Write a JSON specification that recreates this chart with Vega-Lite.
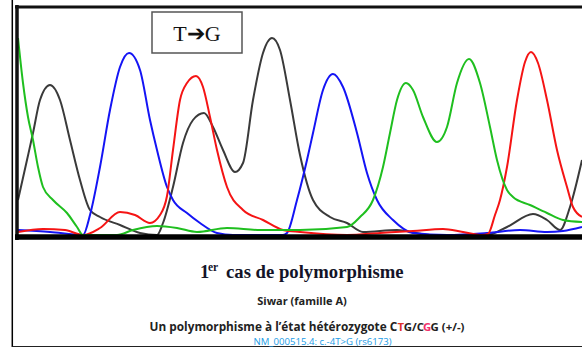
{
  "$schema": "https://vega.github.io/schema/vega-lite/v6.json",
  "width": 564,
  "height": 228,
  "autosize": "none",
  "padding": {"left": 18, "top": 8, "right": 0, "bottom": 113},
  "background": "white",
  "config": {"view": {"stroke": null}},
  "data": {"values": [{"note": "annotation"}]},
  "datasets": {
    "traces": [
      {"base": "G", "pos": 0, "signal": 36}, {"base": "G", "pos": 9, "signal": 76}, {"base": "G", "pos": 15, "signal": 103}, {"base": "G", "pos": 22, "signal": 136}, {"base": "G", "pos": 32, "signal": 151}, {"base": "G", "pos": 42, "signal": 136}, {"base": "G", "pos": 52, "signal": 96}, {"base": "G", "pos": 62, "signal": 56}, {"base": "G", "pos": 72, "signal": 26}, {"base": "G", "pos": 82, "signal": 19}, {"base": "G", "pos": 102, "signal": 11}, {"base": "G", "pos": 122, "signal": 3}, {"base": "G", "pos": 139, "signal": 1}, {"base": "G", "pos": 145, "signal": 13}, {"base": "G", "pos": 155, "signal": 49}, {"base": "G", "pos": 165, "signal": 93}, {"base": "G", "pos": 175, "signal": 116}, {"base": "G", "pos": 186, "signal": 123}, {"base": "G", "pos": 195, "signal": 109}, {"base": "G", "pos": 205, "signal": 86}, {"base": "G", "pos": 217, "signal": 64}, {"base": "G", "pos": 225, "signal": 73}, {"base": "G", "pos": 235, "signal": 136}, {"base": "G", "pos": 245, "signal": 183}, {"base": "G", "pos": 254, "signal": 198}, {"base": "G", "pos": 262, "signal": 186}, {"base": "G", "pos": 272, "signal": 136}, {"base": "G", "pos": 282, "signal": 81}, {"base": "G", "pos": 295, "signal": 36}, {"base": "G", "pos": 312, "signal": 19}, {"base": "G", "pos": 329, "signal": 13}, {"base": "G", "pos": 345, "signal": 4}, {"base": "G", "pos": 379, "signal": 6}, {"base": "G", "pos": 412, "signal": 1}, {"base": "G", "pos": 469, "signal": 1}, {"base": "G", "pos": 489, "signal": 9}, {"base": "G", "pos": 515, "signal": 22}, {"base": "G", "pos": 529, "signal": 16}, {"base": "G", "pos": 542, "signal": 6}, {"base": "G", "pos": 552, "signal": 29}, {"base": "G", "pos": 564, "signal": 76},
      {"base": "C", "pos": 0, "signal": 6}, {"base": "C", "pos": 32, "signal": 4}, {"base": "C", "pos": 65, "signal": 1}, {"base": "C", "pos": 72, "signal": 21}, {"base": "C", "pos": 82, "signal": 69}, {"base": "C", "pos": 92, "signal": 126}, {"base": "C", "pos": 102, "signal": 169}, {"base": "C", "pos": 111, "signal": 183}, {"base": "C", "pos": 122, "signal": 166}, {"base": "C", "pos": 132, "signal": 116}, {"base": "C", "pos": 139, "signal": 86}, {"base": "C", "pos": 149, "signal": 49}, {"base": "C", "pos": 155, "signal": 36}, {"base": "C", "pos": 169, "signal": 23}, {"base": "C", "pos": 182, "signal": 13}, {"base": "C", "pos": 199, "signal": 3}, {"base": "C", "pos": 215, "signal": 1}, {"base": "C", "pos": 265, "signal": 1}, {"base": "C", "pos": 269, "signal": 3}, {"base": "C", "pos": 279, "signal": 36}, {"base": "C", "pos": 289, "signal": 76}, {"base": "C", "pos": 295, "signal": 103}, {"base": "C", "pos": 305, "signal": 146}, {"base": "C", "pos": 315, "signal": 162}, {"base": "C", "pos": 325, "signal": 149}, {"base": "C", "pos": 339, "signal": 103}, {"base": "C", "pos": 349, "signal": 63}, {"base": "C", "pos": 359, "signal": 36}, {"base": "C", "pos": 375, "signal": 16}, {"base": "C", "pos": 395, "signal": 3}, {"base": "C", "pos": 429, "signal": 1}, {"base": "C", "pos": 469, "signal": 3}, {"base": "C", "pos": 502, "signal": 6}, {"base": "C", "pos": 529, "signal": 4}, {"base": "C", "pos": 545, "signal": 5}, {"base": "C", "pos": 564, "signal": 9},
      {"base": "T", "pos": 0, "signal": 4}, {"base": "T", "pos": 25, "signal": 7}, {"base": "T", "pos": 47, "signal": 6}, {"base": "T", "pos": 65, "signal": 1}, {"base": "T", "pos": 82, "signal": 8}, {"base": "T", "pos": 102, "signal": 24}, {"base": "T", "pos": 117, "signal": 21}, {"base": "T", "pos": 132, "signal": 13}, {"base": "T", "pos": 142, "signal": 21}, {"base": "T", "pos": 149, "signal": 40}, {"base": "T", "pos": 155, "signal": 86}, {"base": "T", "pos": 162, "signal": 136}, {"base": "T", "pos": 169, "signal": 153}, {"base": "T", "pos": 178, "signal": 160}, {"base": "T", "pos": 185, "signal": 149}, {"base": "T", "pos": 192, "signal": 119}, {"base": "T", "pos": 199, "signal": 86}, {"base": "T", "pos": 209, "signal": 49}, {"base": "T", "pos": 225, "signal": 26}, {"base": "T", "pos": 245, "signal": 16}, {"base": "T", "pos": 265, "signal": 6}, {"base": "T", "pos": 282, "signal": 4}, {"base": "T", "pos": 329, "signal": 1}, {"base": "T", "pos": 362, "signal": 3}, {"base": "T", "pos": 395, "signal": 5}, {"base": "T", "pos": 425, "signal": 7}, {"base": "T", "pos": 445, "signal": 4}, {"base": "T", "pos": 464, "signal": 1}, {"base": "T", "pos": 470, "signal": 2}, {"base": "T", "pos": 477, "signal": 21}, {"base": "T", "pos": 482, "signal": 36}, {"base": "T", "pos": 489, "signal": 69}, {"base": "T", "pos": 499, "signal": 136}, {"base": "T", "pos": 507, "signal": 174}, {"base": "T", "pos": 513, "signal": 184}, {"base": "T", "pos": 520, "signal": 173}, {"base": "T", "pos": 529, "signal": 136}, {"base": "T", "pos": 539, "signal": 86}, {"base": "T", "pos": 549, "signal": 49}, {"base": "T", "pos": 555, "signal": 29}, {"base": "T", "pos": 564, "signal": 19},
      {"base": "A", "pos": 0, "signal": 198}, {"base": "A", "pos": 5, "signal": 153}, {"base": "A", "pos": 10, "signal": 119}, {"base": "A", "pos": 15, "signal": 96}, {"base": "A", "pos": 20, "signal": 69}, {"base": "A", "pos": 25, "signal": 49}, {"base": "A", "pos": 35, "signal": 36}, {"base": "A", "pos": 49, "signal": 23}, {"base": "A", "pos": 59, "signal": 9}, {"base": "A", "pos": 65, "signal": 1}, {"base": "A", "pos": 99, "signal": 1}, {"base": "A", "pos": 115, "signal": 6}, {"base": "A", "pos": 139, "signal": 10}, {"base": "A", "pos": 159, "signal": 8}, {"base": "A", "pos": 179, "signal": 4}, {"base": "A", "pos": 209, "signal": 8}, {"base": "A", "pos": 242, "signal": 6}, {"base": "A", "pos": 282, "signal": 6}, {"base": "A", "pos": 329, "signal": 9}, {"base": "A", "pos": 342, "signal": 19}, {"base": "A", "pos": 355, "signal": 36}, {"base": "A", "pos": 365, "signal": 69}, {"base": "A", "pos": 372, "signal": 103}, {"base": "A", "pos": 379, "signal": 136}, {"base": "A", "pos": 388, "signal": 153}, {"base": "A", "pos": 395, "signal": 146}, {"base": "A", "pos": 405, "signal": 119}, {"base": "A", "pos": 419, "signal": 94}, {"base": "A", "pos": 429, "signal": 109}, {"base": "A", "pos": 439, "signal": 153}, {"base": "A", "pos": 451, "signal": 177}, {"base": "A", "pos": 462, "signal": 153}, {"base": "A", "pos": 472, "signal": 109}, {"base": "A", "pos": 479, "signal": 76}, {"base": "A", "pos": 489, "signal": 46}, {"base": "A", "pos": 495, "signal": 39}, {"base": "A", "pos": 512, "signal": 31}, {"base": "A", "pos": 529, "signal": 23}, {"base": "A", "pos": 545, "signal": 16}, {"base": "A", "pos": 564, "signal": 14}
    ]
  },
  "layer": [
    {
      "data": {"name": "traces"},
      "mark": {"type": "line", "interpolate": "monotone", "strokeWidth": 2},
      "encoding": {
        "x": {"field": "pos", "type": "quantitative", "scale": {"domain": [0, 564], "nice": false, "zero": false}, "axis": null},
        "y": {"field": "signal", "type": "quantitative", "scale": {"domain": [0, 228], "nice": false, "zero": false}, "axis": null},
        "color": {"field": "base", "type": "nominal", "scale": {"domain": ["A", "C", "G", "T"], "range": ["#1fbf1f", "#1414f5", "#3a3a3a", "#f51414"]}, "legend": null},
        "detail": {"field": "base"}
      }
    },
    {
      "mark": {"type": "rule", "color": "#111", "strokeWidth": 3.5},
      "encoding": {"x": {"datum": -1, "type": "quantitative"}, "y": {"datum": 231, "type": "quantitative"}, "y2": {"datum": -4}}
    },
    {
      "mark": {"type": "rule", "color": "#111", "strokeWidth": 3},
      "encoding": {"y": {"datum": 229, "type": "quantitative"}, "x": {"datum": -3, "type": "quantitative"}, "x2": {"datum": 564}}
    },
    {
      "mark": {"type": "rule", "color": "#000", "strokeWidth": 5.5},
      "encoding": {"y": {"datum": -1, "type": "quantitative"}, "x": {"datum": -3, "type": "quantitative"}, "x2": {"datum": 564}}
    },
    {
      "mark": {"type": "rule", "color": "#000", "strokeWidth": 1.5},
      "encoding": {"x": {"datum": -5.7, "type": "quantitative"}, "y": {"datum": 236, "type": "quantitative"}, "y2": {"datum": -111}}
    },
    {
      "mark": {"type": "rule", "color": "#222", "strokeWidth": 1},
      "encoding": {"y": {"datum": -110.5, "type": "quantitative"}, "x": {"datum": -5.7, "type": "quantitative"}, "x2": {"datum": 564}}
    },
    {
      "mark": {"type": "rect", "fill": "white", "stroke": "#555", "strokeWidth": 1.5},
      "encoding": {"x": {"datum": 134, "type": "quantitative"}, "x2": {"datum": 224}, "y": {"datum": 224, "type": "quantitative"}, "y2": {"datum": 183}}
    },
    {
      "mark": {"type": "text", "font": "Liberation Serif", "fontSize": 22, "align": "center", "baseline": "alphabetic", "color": "#111"},
      "encoding": {"x": {"datum": 179, "type": "quantitative"}, "y": {"datum": 195, "type": "quantitative"}, "text": {"value": "T➔G"}}
    },
    {
      "mark": {"type": "text", "font": "Liberation Serif", "fontSize": 18.5, "fontWeight": "bold", "align": "left", "baseline": "alphabetic", "color": "#141428"},
      "encoding": {"x": {"datum": 182, "type": "quantitative"}, "y": {"datum": -42, "type": "quantitative"}, "text": {"value": "1"}}
    },
    {
      "mark": {"type": "text", "font": "Liberation Serif", "fontSize": 11.5, "fontWeight": "bold", "align": "left", "baseline": "alphabetic", "color": "#141428"},
      "encoding": {"x": {"datum": 190, "type": "quantitative"}, "y": {"datum": -35, "type": "quantitative"}, "text": {"value": "er"}}
    },
    {
      "mark": {"type": "text", "font": "Liberation Serif", "fontSize": 18.7, "fontWeight": "bold", "align": "left", "baseline": "alphabetic", "color": "#141428"},
      "encoding": {"x": {"datum": 208, "type": "quantitative"}, "y": {"datum": -42, "type": "quantitative"}, "text": {"value": "cas de polymorphisme"}}
    },
    {
      "mark": {"type": "text", "font": "Open Sans", "fontSize": 11, "fontWeight": "bold", "align": "center", "baseline": "alphabetic", "color": "#222"},
      "encoding": {"x": {"datum": 284, "type": "quantitative"}, "y": {"datum": -69, "type": "quantitative"}, "text": {"value": "Siwar (famille A)"}}
    },
    {
      "mark": {"type": "text", "font": "Open Sans", "fontSize": 11.8, "fontWeight": "bold", "align": "right", "baseline": "alphabetic", "color": "#222"},
      "encoding": {"x": {"datum": 379.3, "type": "quantitative"}, "y": {"datum": -94.5, "type": "quantitative"}, "text": {"value": "Un polymorphisme à l’état hétérozygote C"}}
    },
    {
      "mark": {"type": "text", "font": "Open Sans", "fontSize": 11.4, "fontWeight": "bold", "align": "left", "baseline": "alphabetic", "color": "#e0302a"},
      "encoding": {"x": {"datum": 379.5, "type": "quantitative"}, "y": {"datum": -94.5, "type": "quantitative"}, "text": {"value": "T"}}
    },
    {
      "mark": {"type": "text", "font": "Open Sans", "fontSize": 11.4, "fontWeight": "bold", "align": "left", "baseline": "alphabetic", "color": "#222"},
      "encoding": {"x": {"datum": 385.8, "type": "quantitative"}, "y": {"datum": -94.5, "type": "quantitative"}, "text": {"value": "G/C"}}
    },
    {
      "mark": {"type": "text", "font": "Open Sans", "fontSize": 11.4, "fontWeight": "bold", "align": "left", "baseline": "alphabetic", "color": "#f0306a"},
      "encoding": {"x": {"datum": 405, "type": "quantitative"}, "y": {"datum": -94.5, "type": "quantitative"}, "text": {"value": "G"}}
    },
    {
      "mark": {"type": "text", "font": "Open Sans", "fontSize": 11.4, "fontWeight": "bold", "align": "left", "baseline": "alphabetic", "color": "#222"},
      "encoding": {"x": {"datum": 412.6, "type": "quantitative"}, "y": {"datum": -94.5, "type": "quantitative"}, "text": {"value": "G (+/-)"}}
    },
    {
      "mark": {"type": "text", "font": "Open Sans", "fontSize": 9.6, "align": "center", "baseline": "alphabetic", "color": "#1a9be6"},
      "encoding": {"x": {"datum": 304.5, "type": "quantitative"}, "y": {"datum": -108.5, "type": "quantitative"}, "text": {"value": "NM_000515.4: c.-4T>G (rs6173)"}}
    }
  ]
}
